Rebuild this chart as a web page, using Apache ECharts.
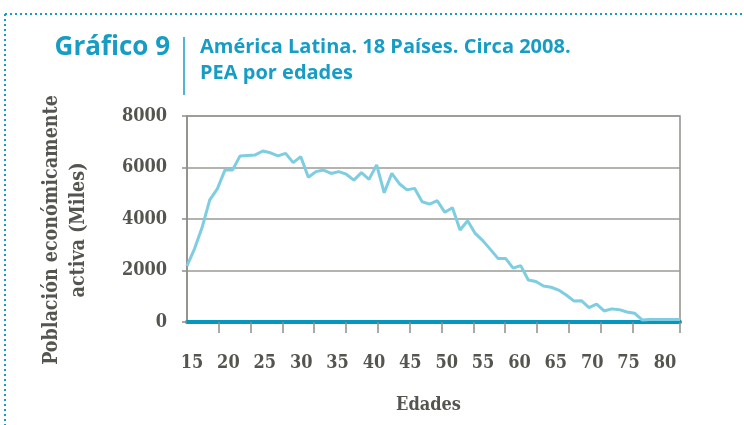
<!DOCTYPE html>
<html>
<head>
<meta charset="utf-8">
<script src="https://cdn.jsdelivr.net/npm/echarts@6/dist/echarts.min.js"></script>
<style>
html,body{margin:0;padding:0;background:#fff;}
#wrap{position:relative;width:744px;height:425px;}
#c,#d{position:absolute;left:0;top:0;width:744px;height:425px;}
#d{pointer-events:none;}
</style>
</head>
<body>
<div id="wrap"><div id="c"></div><div id="d"></div></div>
<script>
// Ages (categories) and economically active population (thousands)
var ages = [15,16,17,18,19,20,21,22,23,24,25,26,27,28,29,30,31,32,33,34,35,36,37,38,39,40,
  41,42,43,44,45,46,47,48,49,50,51,52,53,54,55,56,57,58,59,60,61,62,63,64,65,66,67,68,69,70,
  71,72,73,74,75,76,77,78,79,80];
var pea = [2175,2850,3680,4740,5170,5900,5900,6450,6470,6490,6640,6570,6450,6550,6190,6420,
  5620,5840,5900,5770,5840,5740,5510,5800,5540,6100,5020,5770,5370,5130,5190,4670,4580,4710,
  4260,4440,3570,3930,3440,3160,2820,2470,2470,2090,2190,1630,1570,1400,1350,1240,1050,820,
  830,560,690,430,510,480,390,340,80,100,100,100,100,100];
var xTickLabels = ['15','20','25','30','35','40','45','50','55','60','65','70','75','80'];
// half-slots of the tick-mark axis (a mark every second slot boundary)
var tickSlots = ['1','2','3','4','5','6','7','8','9','10','11','12','13','14','15','16',
  '17','18','19','20','21','22','23','24','25','26','27','28','29','30','31'];

var title = 'Gráfico 9';
var subtitle = 'América Latina. 18 Países. Circa 2008.\nPEA por edades';
var yTitle = 'Población económicamente\nactiva (Miles)';
var xTitle = 'Edades';

var TEAL = '#179dc5', BAND = '#0597bf', GRAY = '#8e8e89', TXT = '#555550';
var SERIF = "'DejaVu Serif Condensed', 'DejaVu Serif', serif";
var SANS = "'Open Sans', 'Noto Sans', sans-serif";

var chart = echarts.init(document.getElementById('c'), null, {renderer:'canvas'});
chart.setOption({
  animation: false,
  grid: [
    {left:187, right:64, top:116, bottom:103, show:true, borderColor:GRAY, borderWidth:1.5},
    {left:192, right:79, top:116, bottom:75, show:false},
    {left:187, right:64, top:116, bottom:103, show:false}
  ],
  xAxis: [
    {type:'category', gridIndex:0, data:ages, boundaryGap:false,
     axisLine:{show:false}, axisTick:{show:false}, axisLabel:{show:false}, splitLine:{show:false}},
    {type:'category', gridIndex:1, data:xTickLabels, boundaryGap:false,
     axisLine:{show:false}, axisTick:{show:false}, splitLine:{show:false},
     axisLabel:{show:true, interval:0, margin:4, color:TXT, fontFamily:SERIF, fontWeight:'bold', fontSize:18},
     name:xTitle, nameLocation:'middle', nameGap:46,
     nameTextStyle:{color:TXT, fontFamily:SERIF, fontWeight:'bold', fontSize:18}},
    {type:'category', gridIndex:2, data:tickSlots, boundaryGap:true,
     axisLine:{show:true, lineStyle:{color:BAND, width:4}},
     axisLabel:{show:false}, splitLine:{show:false},
     axisTick:{show:true, length:11, interval:function(i){ return i > 0 && i % 2 === 0 && i <= 28; },
       lineStyle:{color:GRAY, width:1.5}}}
  ],
  yAxis: [
    {type:'value', gridIndex:0, min:0, max:8000, interval:2000,
     axisLine:{show:true, lineStyle:{color:GRAY, width:1.5}},
     axisTick:{show:true, length:5, lineStyle:{color:GRAY, width:1.5}},
     splitLine:{show:true, lineStyle:{color:'#9a9a95', width:1.5}},
     axisLabel:{margin:20, color:TXT, fontFamily:SERIF, fontWeight:'bold', fontSize:18,
       formatter:function(v){ return String(v); }}},
    {type:'value', gridIndex:1, show:false, min:0, max:8000},
    {type:'value', gridIndex:2, show:false, min:0, max:8000}
  ],
  series: [
    {type:'line', xAxisIndex:0, yAxisIndex:0, data:pea, showSymbol:false,
     lineStyle:{color:'#7ecde1', width:3}, z:5}
  ]
});
try {
  chart.getModel().getComponent('grid', 1).coordinateSystem.getRect();
  chart.convertToPixel({xAxisIndex:1, yAxisIndex:1}, ['15', 0]);
  chart.convertToPixel({xAxisIndex:2, yAxisIndex:2}, ['3', 0]);
} catch (e) {}

var deco = echarts.init(document.getElementById('d'), null, {renderer:'canvas'});
deco.setOption({
  animation: false,
  graphic: {
    elements: [
      {type:'line', shape:{x1:5, y1:14, x2:744, y2:14}, style:{stroke:TEAL, lineWidth:2, lineDash:[2,3]}},
      {type:'line', shape:{x1:5, y1:14, x2:5, y2:425}, style:{stroke:TEAL, lineWidth:2, lineDash:[2,3]}},
      {type:'text', x:170, y:48, style:{text:title, fill:TEAL, fontSize:26, fontWeight:'bold', fontFamily:SANS, align:'right', verticalAlign:'middle'}},
      {type:'line', shape:{x1:184, y1:37, x2:184, y2:95}, style:{stroke:TEAL, lineWidth:1.5}},
      {type:'text', x:200, y:60, style:{text:subtitle, fill:TEAL, fontSize:20, fontWeight:'bold', fontFamily:SANS, lineHeight:26, align:'left', verticalAlign:'middle'}},
      {type:'text', x:65, y:230, rotation:Math.PI/2,
       style:{text:yTitle, fill:TXT, fontSize:19.5, fontWeight:'bold', fontFamily:SERIF, lineHeight:27, align:'center', verticalAlign:'middle'}}
    ]
  }
});
</script>
</body>
</html>
